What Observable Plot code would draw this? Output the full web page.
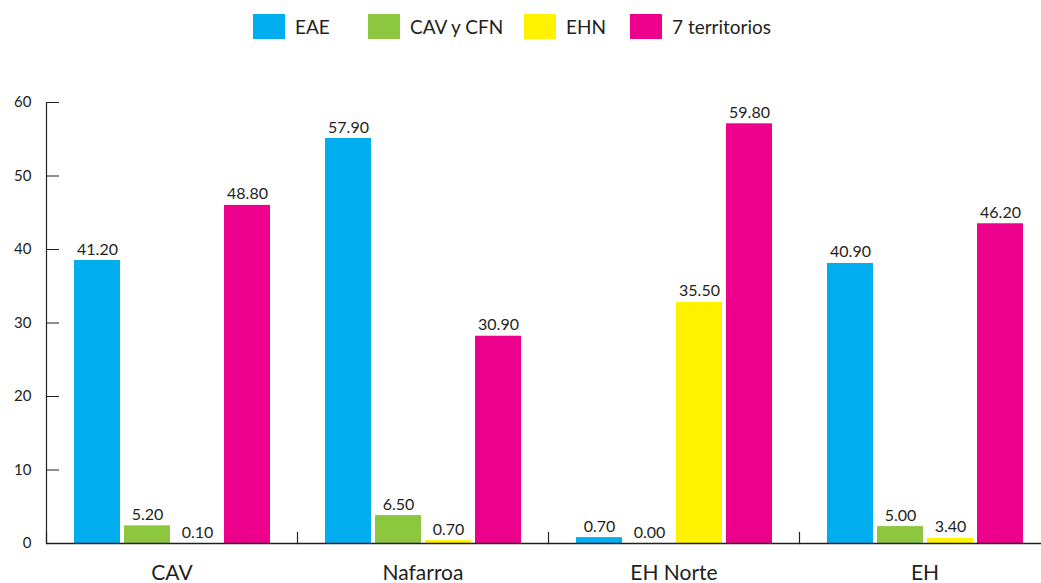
<!DOCTYPE html>
<html>
<head>
<meta charset="utf-8">
<script src="https://cdn.jsdelivr.net/npm/d3@7"></script>
<script src="https://cdn.jsdelivr.net/npm/@observablehq/plot@0.6"></script>
<style>
  html, body { margin: 0; padding: 0; background: #fff; overflow: hidden; width: 1041px; height: 583px; }
  #legend { position: relative; height: 60px; font-family: Lato, sans-serif; font-size: 19px; color: #231f20; }
  .item { position: absolute; top: 14px; display: flex; align-items: center; height: 25px; }
  .sw { width: 32px; height: 25px; margin-right: 10px; }
  #chart svg { display: block; max-width: none !important; }
</style>
</head>
<body>
<div id="legend"></div>
<div id="chart"></div>
<script>
// Categories and series
const groups = ["CAV", "Nafarroa", "EH Norte", "EH"];
const series = ["EAE", "CAV y CFN", "EHN", "7 territorios"];
const colors = ["#00AEEF", "#8DC63F", "#FFF200", "#EC008C"];

// Printed values (labels above the bars)
const eae = [41.2, 57.9, 0.7, 40.9];
const cavCfn = [5.2, 6.5, 0.0, 5.0];
const ehn = [0.1, 0.7, 35.5, 3.4];
const territorios = [48.8, 30.9, 59.8, 46.2];

// Bar heights as drawn in the picture (read against the y axis)
const eaeBar = [38.5, 55.1, 0.8, 38.1];
const cavCfnBar = [2.4, 3.8, 0.0, 2.3];
const ehnBar = [0.0, 0.4, 32.8, 0.7];
const territoriosBar = [46.0, 28.2, 57.1, 43.5];

const yTicks = [0, 10, 20, 30, 40, 50, 60];

const labelSets = [eae, cavCfn, ehn, territorios];
const barSets = [eaeBar, cavCfnBar, ehnBar, territoriosBar];
const data = [];
groups.forEach((g, gi) => {
  series.forEach((s, si) => {
    data.push({group: g, series: s, value: labelSets[si][gi], bar: barSets[si][gi]});
  });
});

// Legend
const legendLeft = [253, 368, 524, 630];
const legend = document.getElementById("legend");
series.forEach((s, i) => {
  const it = document.createElement("div");
  it.className = "item";
  it.style.left = legendLeft[i] + "px";
  const sw = document.createElement("div");
  sw.className = "sw";
  sw.style.background = colors[i];
  const tx = document.createElement("span");
  tx.textContent = s;
  it.appendChild(sw);
  it.appendChild(tx);
  legend.appendChild(it);
});

const ink = "#231f20";
const H = 523, MT = 42, MB = 40;

const chart = Plot.plot({
  width: 1051,
  height: H,
  marginLeft: 45,
  marginRight: 0,
  marginTop: MT,
  marginBottom: MB,
  style: {fontFamily: "Lato, sans-serif", color: ink, background: "#fff", maxWidth: "none"},
  fx: {domain: groups, padding: 0},
  x: {domain: series, paddingInner: 0.085, paddingOuter: 0.54, axis: null},
  y: {domain: [0, 60]},
  color: {domain: series, range: colors},
  marks: [
    Plot.barY(data, {fx: "group", x: "series", y: "bar", fill: "series"}),
    Plot.text(data, {fx: "group", x: "series", y: "bar", text: d => d.value.toFixed(2), dy: -6, lineAnchor: "bottom", fontSize: 16, fill: ink}),
    Plot.ruleY([0], {stroke: ink, strokeWidth: 1.4}),
    Plot.frame({anchor: "left", facetAnchor: "left", stroke: ink, strokeWidth: 1.2}),
    Plot.frame({anchor: "left", insetTop: H - MT - MB - 11, stroke: ink, strokeWidth: 1.2}),
    Plot.axisY({ticks: yTicks, tickSize: -13, tickPadding: 28, fontSize: 15, label: null, stroke: ink, fill: ink, tickFormat: d => String(d)}),
    Plot.axisFx({anchor: "bottom", tickSize: 0, tickPadding: 22, fontSize: 21, label: null, fill: ink})
  ]
});
document.getElementById("chart").appendChild(chart);
</script>
</body>
</html>
